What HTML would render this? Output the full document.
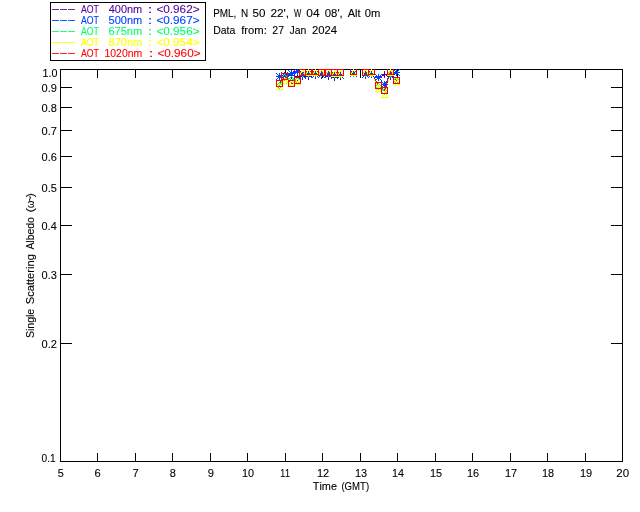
<!DOCTYPE html>
<html><head><meta charset="utf-8"><title>Single Scattering Albedo</title>
<style>
html,body{margin:0;padding:0;background:#fff;}
svg{display:block;font-family:"Liberation Sans",sans-serif;font-kerning:none;}
svg line,svg rect{shape-rendering:crispEdges;}
</style></head><body>
<svg width="640" height="512" viewBox="0 0 640 512">
<rect x="0" y="0" width="640" height="512" fill="#fff" stroke="none"/>
<rect x="60.5" y="69.5" width="562" height="392" fill="none" stroke="#000"/>
<text transform="translate(57.73,477) scale(0.948,1)" fill="#000" stroke="#000" stroke-width="0.1" font-size="11.5">5</text>
<line x1="97.5" y1="461.5" x2="97.5" y2="453" stroke="#000" stroke-width="1"/>
<line x1="97.5" y1="69.5" x2="97.5" y2="78" stroke="#000" stroke-width="1"/>
<text transform="translate(94.60,477) scale(0.974,1)" fill="#000" stroke="#000" stroke-width="0.1" font-size="11.5">6</text>
<line x1="135.5" y1="461.5" x2="135.5" y2="453" stroke="#000" stroke-width="1"/>
<line x1="135.5" y1="69.5" x2="135.5" y2="78" stroke="#000" stroke-width="1"/>
<text transform="translate(132.58,477) scale(0.988,1)" fill="#000" stroke="#000" stroke-width="0.1" font-size="11.5">7</text>
<line x1="172.5" y1="461.5" x2="172.5" y2="453" stroke="#000" stroke-width="1"/>
<line x1="172.5" y1="69.5" x2="172.5" y2="78" stroke="#000" stroke-width="1"/>
<text transform="translate(169.69,477) scale(0.957,1)" fill="#000" stroke="#000" stroke-width="0.1" font-size="11.5">8</text>
<line x1="210.5" y1="461.5" x2="210.5" y2="453" stroke="#000" stroke-width="1"/>
<line x1="210.5" y1="69.5" x2="210.5" y2="78" stroke="#000" stroke-width="1"/>
<text transform="translate(207.64,477) scale(0.973,1)" fill="#000" stroke="#000" stroke-width="0.1" font-size="11.5">9</text>
<line x1="247.5" y1="461.5" x2="247.5" y2="453" stroke="#000" stroke-width="1"/>
<line x1="247.5" y1="69.5" x2="247.5" y2="78" stroke="#000" stroke-width="1"/>
<text transform="translate(242.01,477) scale(0.945,1)" fill="#000" stroke="#000" stroke-width="0.1" font-size="11.5">10</text>
<line x1="285.5" y1="461.5" x2="285.5" y2="453" stroke="#000" stroke-width="1"/>
<line x1="285.5" y1="69.5" x2="285.5" y2="78" stroke="#000" stroke-width="1"/>
<text transform="translate(280.15,477) scale(0.778,1)" fill="#000" stroke="#000" stroke-width="0.1" font-size="11.5">11</text>
<line x1="322.5" y1="461.5" x2="322.5" y2="453" stroke="#000" stroke-width="1"/>
<line x1="322.5" y1="69.5" x2="322.5" y2="78" stroke="#000" stroke-width="1"/>
<text transform="translate(317.00,477) scale(0.956,1)" fill="#000" stroke="#000" stroke-width="0.1" font-size="11.5">12</text>
<line x1="360.5" y1="461.5" x2="360.5" y2="453" stroke="#000" stroke-width="1"/>
<line x1="360.5" y1="69.5" x2="360.5" y2="78" stroke="#000" stroke-width="1"/>
<text transform="translate(355.00,477) scale(0.949,1)" fill="#000" stroke="#000" stroke-width="0.1" font-size="11.5">13</text>
<line x1="397.5" y1="461.5" x2="397.5" y2="453" stroke="#000" stroke-width="1"/>
<line x1="397.5" y1="69.5" x2="397.5" y2="78" stroke="#000" stroke-width="1"/>
<text transform="translate(392.01,477) scale(0.936,1)" fill="#000" stroke="#000" stroke-width="0.1" font-size="11.5">14</text>
<line x1="435.5" y1="461.5" x2="435.5" y2="453" stroke="#000" stroke-width="1"/>
<line x1="435.5" y1="69.5" x2="435.5" y2="78" stroke="#000" stroke-width="1"/>
<text transform="translate(430.00,477) scale(0.948,1)" fill="#000" stroke="#000" stroke-width="0.1" font-size="11.5">15</text>
<line x1="472.5" y1="461.5" x2="472.5" y2="453" stroke="#000" stroke-width="1"/>
<line x1="472.5" y1="69.5" x2="472.5" y2="78" stroke="#000" stroke-width="1"/>
<text transform="translate(467.00,477) scale(0.949,1)" fill="#000" stroke="#000" stroke-width="0.1" font-size="11.5">16</text>
<line x1="510.5" y1="461.5" x2="510.5" y2="453" stroke="#000" stroke-width="1"/>
<line x1="510.5" y1="69.5" x2="510.5" y2="78" stroke="#000" stroke-width="1"/>
<text transform="translate(505.00,477) scale(0.956,1)" fill="#000" stroke="#000" stroke-width="0.1" font-size="11.5">17</text>
<line x1="547.5" y1="461.5" x2="547.5" y2="453" stroke="#000" stroke-width="1"/>
<line x1="547.5" y1="69.5" x2="547.5" y2="78" stroke="#000" stroke-width="1"/>
<text transform="translate(542.00,477) scale(0.949,1)" fill="#000" stroke="#000" stroke-width="0.1" font-size="11.5">18</text>
<line x1="585.5" y1="461.5" x2="585.5" y2="453" stroke="#000" stroke-width="1"/>
<line x1="585.5" y1="69.5" x2="585.5" y2="78" stroke="#000" stroke-width="1"/>
<text transform="translate(580.00,477) scale(0.953,1)" fill="#000" stroke="#000" stroke-width="0.1" font-size="11.5">19</text>
<text transform="translate(616.25,477) scale(1.006,1)" fill="#000" stroke="#000" stroke-width="0.1" font-size="11.5">20</text>
<text transform="translate(42.48,77) scale(0.934,1)" fill="#000" stroke="#000" stroke-width="0.1" font-size="11.5">1.0</text>
<line x1="60.5" y1="87.5" x2="72" y2="87.5" stroke="#000" stroke-width="1"/>
<line x1="622.5" y1="87.5" x2="611" y2="87.5" stroke="#000" stroke-width="1"/>
<text transform="translate(41.57,92) scale(0.960,1)" fill="#000" stroke="#000" stroke-width="0.1" font-size="11.5">0.9</text>
<line x1="60.5" y1="107.5" x2="72" y2="107.5" stroke="#000" stroke-width="1"/>
<line x1="622.5" y1="107.5" x2="611" y2="107.5" stroke="#000" stroke-width="1"/>
<text transform="translate(41.57,112) scale(0.958,1)" fill="#000" stroke="#000" stroke-width="0.1" font-size="11.5">0.8</text>
<line x1="60.5" y1="130.5" x2="72" y2="130.5" stroke="#000" stroke-width="1"/>
<line x1="622.5" y1="130.5" x2="611" y2="130.5" stroke="#000" stroke-width="1"/>
<text transform="translate(41.57,135) scale(0.963,1)" fill="#000" stroke="#000" stroke-width="0.1" font-size="11.5">0.7</text>
<line x1="60.5" y1="156.5" x2="72" y2="156.5" stroke="#000" stroke-width="1"/>
<line x1="622.5" y1="156.5" x2="611" y2="156.5" stroke="#000" stroke-width="1"/>
<text transform="translate(41.57,161) scale(0.958,1)" fill="#000" stroke="#000" stroke-width="0.1" font-size="11.5">0.6</text>
<line x1="60.5" y1="187.5" x2="72" y2="187.5" stroke="#000" stroke-width="1"/>
<line x1="622.5" y1="187.5" x2="611" y2="187.5" stroke="#000" stroke-width="1"/>
<text transform="translate(41.57,192) scale(0.957,1)" fill="#000" stroke="#000" stroke-width="0.1" font-size="11.5">0.5</text>
<line x1="60.5" y1="225.5" x2="72" y2="225.5" stroke="#000" stroke-width="1"/>
<line x1="622.5" y1="225.5" x2="611" y2="225.5" stroke="#000" stroke-width="1"/>
<text transform="translate(41.57,230) scale(0.947,1)" fill="#000" stroke="#000" stroke-width="0.1" font-size="11.5">0.4</text>
<line x1="60.5" y1="274.5" x2="72" y2="274.5" stroke="#000" stroke-width="1"/>
<line x1="622.5" y1="274.5" x2="611" y2="274.5" stroke="#000" stroke-width="1"/>
<text transform="translate(41.57,279) scale(0.958,1)" fill="#000" stroke="#000" stroke-width="0.1" font-size="11.5">0.3</text>
<line x1="60.5" y1="343.5" x2="72" y2="343.5" stroke="#000" stroke-width="1"/>
<line x1="622.5" y1="343.5" x2="611" y2="343.5" stroke="#000" stroke-width="1"/>
<text transform="translate(41.57,348) scale(0.963,1)" fill="#000" stroke="#000" stroke-width="0.1" font-size="11.5">0.2</text>
<text transform="translate(41.60,462) scale(0.881,1)" fill="#000" stroke="#000" stroke-width="0.1" font-size="11.5">0.1</text>
<text y="490" fill="#000" stroke="#000" stroke-width="0.1" font-size="11.5"><tspan x="312.76" textLength="24.23" lengthAdjust="spacingAndGlyphs">Time</tspan> <tspan x="341.41" textLength="27.69" lengthAdjust="spacingAndGlyphs">(GMT)</tspan></text>
<text transform="translate(33.5,0) rotate(-90)" y="0" fill="#000" stroke="#000" stroke-width="0.1" font-size="11.5"><tspan x="-337.98" textLength="29.14" lengthAdjust="spacingAndGlyphs">Single</tspan> <tspan x="-304.31" textLength="50.23" lengthAdjust="spacingAndGlyphs">Scattering</tspan> <tspan x="-249.62" textLength="32.46" lengthAdjust="spacingAndGlyphs">Albedo</tspan> <tspan x="-212.64" textLength="4.52" lengthAdjust="spacingAndGlyphs">(</tspan><tspan x="-207.98" textLength="7.37" lengthAdjust="spacingAndGlyphs">ω</tspan><tspan x="-201.75" textLength="5.79" lengthAdjust="spacingAndGlyphs">~</tspan><tspan x="-197.37" textLength="4.14" lengthAdjust="spacingAndGlyphs">)</tspan></text>
<text y="17" fill="#000" stroke="#000" stroke-width="0.1" font-size="11.5"><tspan x="213.18" textLength="23.21" lengthAdjust="spacingAndGlyphs">PML,</tspan> <tspan x="240.93" textLength="7.18" lengthAdjust="spacingAndGlyphs">N</tspan> <tspan x="252.53" textLength="12.92" lengthAdjust="spacingAndGlyphs">50</tspan> <tspan x="270.41" textLength="18.65" lengthAdjust="spacingAndGlyphs">22',</tspan> <tspan x="293.97" textLength="7.26" lengthAdjust="spacingAndGlyphs">W</tspan> <tspan x="306.33" textLength="13.27" lengthAdjust="spacingAndGlyphs">04</tspan> <tspan x="324.81" textLength="17.96" lengthAdjust="spacingAndGlyphs">08',</tspan> <tspan x="347.73" textLength="12.85" lengthAdjust="spacingAndGlyphs">Alt</tspan> <tspan x="364.86" textLength="15.58" lengthAdjust="spacingAndGlyphs">0m</tspan></text>
<text y="34" fill="#000" stroke="#000" stroke-width="0.1" font-size="11.5"><tspan x="213.14" textLength="22.16" lengthAdjust="spacingAndGlyphs">Data</tspan> <tspan x="241.14" textLength="25.64" lengthAdjust="spacingAndGlyphs">from:</tspan> <tspan x="272.27" textLength="11.76" lengthAdjust="spacingAndGlyphs">27</tspan> <tspan x="289.59" textLength="16.84" lengthAdjust="spacingAndGlyphs">Jan</tspan> <tspan x="311.93" textLength="25.20" lengthAdjust="spacingAndGlyphs">2024</tspan></text>
<rect x="50.5" y="2.5" width="155" height="58" fill="none" stroke="#000"/>
<text y="13" fill="#52009c" stroke="#52009c" stroke-width="0.1" font-size="11.5"><tspan x="51.10" y="12" letter-spacing="-0.04em" textLength="23.82" lengthAdjust="spacingAndGlyphs">---</tspan> <tspan x="80.98" y="13" textLength="17.92" lengthAdjust="spacingAndGlyphs">AOT</tspan> <tspan x="108.75" textLength="33.47" lengthAdjust="spacingAndGlyphs">400nm</tspan> <tspan x="147.67" textLength="4.67" lengthAdjust="spacingAndGlyphs">:</tspan> <tspan x="156.42" textLength="43.15" lengthAdjust="spacingAndGlyphs">&lt;0.962&gt;</tspan></text>
<text y="24" fill="#0040ff" stroke="#0040ff" stroke-width="0.1" font-size="11.5"><tspan x="51.10" y="23" letter-spacing="-0.04em" textLength="23.82" lengthAdjust="spacingAndGlyphs">---</tspan> <tspan x="80.98" y="24" textLength="17.92" lengthAdjust="spacingAndGlyphs">AOT</tspan> <tspan x="108.56" textLength="33.67" lengthAdjust="spacingAndGlyphs">500nm</tspan> <tspan x="147.67" textLength="4.67" lengthAdjust="spacingAndGlyphs">:</tspan> <tspan x="156.42" textLength="43.15" lengthAdjust="spacingAndGlyphs">&lt;0.967&gt;</tspan></text>
<text y="35" fill="#00ff70" stroke="#00ff70" stroke-width="0.1" font-size="11.5"><tspan x="51.10" y="34" letter-spacing="-0.04em" textLength="23.82" lengthAdjust="spacingAndGlyphs">---</tspan> <tspan x="80.98" y="35" textLength="17.92" lengthAdjust="spacingAndGlyphs">AOT</tspan> <tspan x="108.44" textLength="33.79" lengthAdjust="spacingAndGlyphs">675nm</tspan> <tspan x="147.67" textLength="4.67" lengthAdjust="spacingAndGlyphs">:</tspan> <tspan x="156.42" textLength="43.15" lengthAdjust="spacingAndGlyphs">&lt;0.956&gt;</tspan></text>
<text y="46" fill="#ffff00" stroke="#ffff00" stroke-width="0.1" font-size="11.5"><tspan x="51.10" y="45" letter-spacing="-0.04em" textLength="23.82" lengthAdjust="spacingAndGlyphs">---</tspan> <tspan x="80.98" y="46" textLength="17.92" lengthAdjust="spacingAndGlyphs">AOT</tspan> <tspan x="108.52" textLength="33.71" lengthAdjust="spacingAndGlyphs">870nm</tspan> <tspan x="147.67" textLength="4.67" lengthAdjust="spacingAndGlyphs">:</tspan> <tspan x="156.42" textLength="43.15" lengthAdjust="spacingAndGlyphs">&lt;0.954&gt;</tspan></text>
<text y="57" fill="#ff0000" stroke="#ff0000" stroke-width="0.1" font-size="11.5"><tspan x="51.10" y="56" letter-spacing="-0.04em" textLength="23.82" lengthAdjust="spacingAndGlyphs">---</tspan> <tspan x="80.98" y="57" textLength="17.92" lengthAdjust="spacingAndGlyphs">AOT</tspan> <tspan x="104.51" textLength="37.68" lengthAdjust="spacingAndGlyphs">1020nm</tspan> <tspan x="148.67" textLength="4.67" lengthAdjust="spacingAndGlyphs">:</tspan> <tspan x="157.42" textLength="43.15" lengthAdjust="spacingAndGlyphs">&lt;0.960&gt;</tspan></text>
<g shape-rendering="crispEdges" stroke="none">
<path d="M396 72h1v1h-1zM394 73h2v1h-2zM369 74h4v1h-4zM384 74h2v1h-2zM393 74h1v1h-1zM282 75h13v1h-13zM312 75h13v1h-13zM365 75h4v1h-4zM373 75h2v1h-2zM382 75h2v1h-2zM386 75h3v1h-3zM391 75h2v1h-2zM279 76h3v1h-3zM295 76h17v1h-17zM325 76h7v1h-7zM338 76h3v1h-3zM375 76h2v1h-2zM380 76h2v1h-2zM389 76h2v1h-2zM332 77h6v1h-6zM377 77h3v1h-3z" fill="#52009c"/>
<path d="M296 71h2v1h-2zM293 72h3v1h-3zM298 72h1v1h-1zM396 72h1v1h-1zM290 73h3v1h-3zM299 73h2v1h-2zM394 73h2v1h-2zM286 74h4v1h-4zM301 74h1v1h-1zM306 74h26v1h-26zM365 74h8v1h-8zM392 74h2v1h-2zM282 75h4v1h-4zM302 75h4v1h-4zM332 75h9v1h-9zM373 75h2v1h-2zM390 75h2v1h-2zM279 76h3v1h-3zM375 76h2v1h-2zM389 76h1v1h-1zM377 77h2v1h-2zM389 77h1v1h-1zM379 78h1v1h-1zM388 78h1v1h-1zM380 79h1v1h-1zM387 79h1v1h-1zM381 80h1v1h-1zM387 80h1v1h-1zM381 81h1v1h-1zM386 81h1v1h-1zM382 82h1v1h-1zM385 82h1v1h-1zM383 83h1v1h-1zM385 83h1v1h-1zM384 84h1v1h-1z" fill="#0040ff"/>
<path d="M302 73h30v1h-30zM365 73h7v1h-7zM390 73h1v1h-1zM301 74h1v1h-1zM332 74h9v1h-9zM372 74h1v1h-1zM390 74h2v1h-2zM301 75h1v1h-1zM372 75h1v1h-1zM389 75h1v1h-1zM392 75h1v1h-1zM300 76h1v1h-1zM373 76h1v1h-1zM389 76h1v1h-1zM393 76h1v1h-1zM284 77h2v1h-2zM299 77h1v1h-1zM373 77h1v1h-1zM389 77h1v1h-1zM393 77h1v1h-1zM283 78h1v1h-1zM286 78h4v1h-4zM298 78h1v1h-1zM374 78h1v1h-1zM388 78h1v1h-1zM394 78h1v1h-1zM283 79h1v1h-1zM290 79h5v1h-5zM298 79h1v1h-1zM374 79h1v1h-1zM388 79h1v1h-1zM395 79h1v1h-1zM282 80h1v1h-1zM295 80h3v1h-3zM375 80h1v1h-1zM388 80h1v1h-1zM396 80h1v1h-1zM281 81h1v1h-1zM375 81h1v1h-1zM387 81h1v1h-1zM281 82h1v1h-1zM376 82h1v1h-1zM387 82h1v1h-1zM280 83h1v1h-1zM376 83h1v1h-1zM387 83h1v1h-1zM280 84h1v1h-1zM377 84h1v1h-1zM386 84h1v1h-1zM279 85h1v1h-1zM377 85h1v1h-1zM386 85h1v1h-1zM378 86h1v1h-1zM386 86h1v1h-1zM379 87h1v1h-1zM385 87h1v1h-1zM380 88h2v1h-2zM385 88h1v1h-1zM382 89h1v1h-1zM385 89h1v1h-1zM383 90h2v1h-2zM384 91h1v1h-1z" fill="#00ff70"/>
<path d="M302 72h30v1h-30zM365 72h7v1h-7zM390 72h1v1h-1zM301 73h1v1h-1zM332 73h9v1h-9zM371 73h1v1h-1zM390 73h2v1h-2zM301 74h1v1h-1zM372 74h1v1h-1zM389 74h1v1h-1zM391 74h1v1h-1zM300 75h1v1h-1zM372 75h1v1h-1zM389 75h1v1h-1zM392 75h1v1h-1zM300 76h1v1h-1zM373 76h1v1h-1zM389 76h1v1h-1zM393 76h1v1h-1zM299 77h1v1h-1zM373 77h1v1h-1zM389 77h1v1h-1zM393 77h1v1h-1zM299 78h1v1h-1zM374 78h1v1h-1zM388 78h1v1h-1zM394 78h1v1h-1zM298 79h1v1h-1zM374 79h1v1h-1zM388 79h1v1h-1zM395 79h1v1h-1zM284 80h2v1h-2zM298 80h1v1h-1zM374 80h1v1h-1zM388 80h1v1h-1zM395 80h1v1h-1zM283 81h1v1h-1zM286 81h4v1h-4zM295 81h3v1h-3zM375 81h1v1h-1zM388 81h1v1h-1zM396 81h1v1h-1zM282 82h1v1h-1zM290 82h5v1h-5zM375 82h1v1h-1zM387 82h1v1h-1zM281 83h1v1h-1zM376 83h1v1h-1zM387 83h1v1h-1zM281 84h1v1h-1zM376 84h1v1h-1zM387 84h1v1h-1zM280 85h1v1h-1zM377 85h1v1h-1zM386 85h1v1h-1zM279 86h1v1h-1zM377 86h1v1h-1zM386 86h1v1h-1zM378 87h1v1h-1zM386 87h1v1h-1zM378 88h1v1h-1zM386 88h1v1h-1zM379 89h1v1h-1zM385 89h1v1h-1zM380 90h1v1h-1zM385 90h1v1h-1zM381 91h1v1h-1zM385 91h1v1h-1zM382 92h1v1h-1zM385 92h1v1h-1zM383 93h2v1h-2zM384 94h1v1h-1z" fill="#ffff00"/>
<path d="M306 71h13v1h-13zM369 71h3v1h-3zM390 71h1v1h-1zM302 72h4v1h-4zM319 72h22v1h-22zM365 72h4v1h-4zM371 72h1v1h-1zM390 72h2v1h-2zM301 73h1v1h-1zM372 73h1v1h-1zM389 73h1v1h-1zM391 73h1v1h-1zM301 74h1v1h-1zM372 74h1v1h-1zM389 74h1v1h-1zM392 74h1v1h-1zM300 75h1v1h-1zM373 75h1v1h-1zM389 75h1v1h-1zM393 75h1v1h-1zM284 76h1v1h-1zM299 76h1v1h-1zM373 76h1v1h-1zM388 76h1v1h-1zM393 76h1v1h-1zM283 77h1v1h-1zM285 77h1v1h-1zM299 77h1v1h-1zM374 77h1v1h-1zM388 77h1v1h-1zM394 77h1v1h-1zM283 78h1v1h-1zM286 78h1v1h-1zM298 78h1v1h-1zM374 78h1v1h-1zM388 78h1v1h-1zM395 78h1v1h-1zM282 79h1v1h-1zM287 79h1v1h-1zM298 79h1v1h-1zM375 79h1v1h-1zM387 79h1v1h-1zM395 79h1v1h-1zM281 80h1v1h-1zM288 80h1v1h-1zM297 80h1v1h-1zM375 80h1v1h-1zM387 80h1v1h-1zM396 80h1v1h-1zM280 81h1v1h-1zM289 81h1v1h-1zM295 81h2v1h-2zM376 81h1v1h-1zM387 81h1v1h-1zM280 82h1v1h-1zM290 82h1v1h-1zM293 82h2v1h-2zM376 82h1v1h-1zM387 82h1v1h-1zM279 83h1v1h-1zM291 83h2v1h-2zM377 83h1v1h-1zM386 83h1v1h-1zM377 84h1v1h-1zM386 84h1v1h-1zM378 85h1v1h-1zM386 85h1v1h-1zM379 86h1v1h-1zM385 86h1v1h-1zM380 87h2v1h-2zM385 87h1v1h-1zM382 88h1v1h-1zM385 88h1v1h-1zM383 89h2v1h-2zM384 90h1v1h-1z" fill="#ff0000"/>
<path d="M396 69h1v1h-1zM353 70h1v1h-1zM396 70h1v1h-1zM353 71h1v1h-1zM371 71h1v1h-1zM384 71h1v1h-1zM396 71h1v1h-1zM284 72h1v1h-1zM291 72h1v1h-1zM315 72h1v1h-1zM321 72h1v1h-1zM353 72h1v1h-1zM365 72h1v1h-1zM371 72h1v1h-1zM384 72h1v1h-1zM393 72h7v1h-7zM279 73h1v1h-1zM284 73h1v1h-1zM291 73h1v1h-1zM297 73h1v1h-1zM302 73h1v1h-1zM308 73h1v1h-1zM315 73h1v1h-1zM321 73h1v1h-1zM328 73h1v1h-1zM340 73h1v1h-1zM350 73h7v1h-7zM365 73h1v1h-1zM371 73h1v1h-1zM384 73h1v1h-1zM390 73h1v1h-1zM396 73h1v1h-1zM279 74h1v1h-1zM284 74h1v1h-1zM291 74h1v1h-1zM297 74h1v1h-1zM302 74h1v1h-1zM308 74h1v1h-1zM315 74h1v1h-1zM321 74h1v1h-1zM328 74h1v1h-1zM334 74h1v1h-1zM340 74h1v1h-1zM353 74h1v1h-1zM365 74h1v1h-1zM368 74h7v1h-7zM378 74h1v1h-1zM381 74h7v1h-7zM390 74h1v1h-1zM396 74h1v1h-1zM279 75h1v1h-1zM281 75h14v1h-14zM297 75h1v1h-1zM302 75h1v1h-1zM308 75h1v1h-1zM312 75h13v1h-13zM328 75h1v1h-1zM334 75h1v1h-1zM340 75h1v1h-1zM353 75h1v1h-1zM362 75h7v1h-7zM371 75h1v1h-1zM378 75h1v1h-1zM384 75h1v1h-1zM390 75h1v1h-1zM396 75h1v1h-1zM276 76h7v1h-7zM284 76h1v1h-1zM291 76h1v1h-1zM294 76h18v1h-18zM315 76h1v1h-1zM321 76h1v1h-1zM325 76h7v1h-7zM334 76h1v1h-1zM337 76h7v1h-7zM353 76h1v1h-1zM365 76h1v1h-1zM371 76h1v1h-1zM378 76h1v1h-1zM384 76h1v1h-1zM387 76h7v1h-7zM279 77h1v1h-1zM284 77h1v1h-1zM291 77h1v1h-1zM297 77h1v1h-1zM302 77h1v1h-1zM308 77h1v1h-1zM315 77h1v1h-1zM321 77h1v1h-1zM328 77h1v1h-1zM331 77h7v1h-7zM340 77h1v1h-1zM365 77h1v1h-1zM371 77h1v1h-1zM375 77h7v1h-7zM384 77h1v1h-1zM390 77h1v1h-1zM279 78h1v1h-1zM284 78h1v1h-1zM291 78h1v1h-1zM297 78h1v1h-1zM302 78h1v1h-1zM308 78h1v1h-1zM315 78h1v1h-1zM321 78h1v1h-1zM328 78h1v1h-1zM334 78h1v1h-1zM340 78h1v1h-1zM365 78h1v1h-1zM378 78h1v1h-1zM390 78h1v1h-1zM279 79h1v1h-1zM297 79h1v1h-1zM302 79h1v1h-1zM308 79h1v1h-1zM328 79h1v1h-1zM334 79h1v1h-1zM340 79h1v1h-1zM378 79h1v1h-1zM390 79h1v1h-1zM334 80h1v1h-1zM378 80h1v1h-1z" fill="#52009c"/>
<path d="M295 69h1v1h-1zM297 69h1v1h-1zM299 69h1v1h-1zM393 69h1v1h-1zM396 69h1v1h-1zM399 69h1v1h-1zM288 70h1v1h-1zM291 70h1v1h-1zM294 70h1v1h-1zM296 70h3v1h-3zM350 70h1v1h-1zM353 70h1v1h-1zM356 70h1v1h-1zM394 70h1v1h-1zM396 70h1v1h-1zM398 70h1v1h-1zM289 71h1v1h-1zM291 71h1v1h-1zM293 71h8v1h-8zM305 71h1v1h-1zM308 71h1v1h-1zM311 71h2v1h-2zM315 71h1v1h-1zM318 71h1v1h-1zM321 71h1v1h-1zM324 71h2v1h-2zM328 71h1v1h-1zM331 71h1v1h-1zM351 71h1v1h-1zM353 71h1v1h-1zM355 71h1v1h-1zM362 71h1v1h-1zM365 71h1v1h-1zM368 71h1v1h-1zM371 71h1v1h-1zM374 71h1v1h-1zM395 71h3v1h-3zM281 72h1v1h-1zM284 72h1v1h-1zM287 72h1v1h-1zM290 72h3v1h-3zM296 72h4v1h-4zM302 72h1v1h-1zM305 72h2v1h-2zM308 72h1v1h-1zM310 72h1v1h-1zM313 72h1v1h-1zM315 72h1v1h-1zM317 72h1v1h-1zM319 72h1v1h-1zM321 72h1v1h-1zM323 72h1v1h-1zM326 72h1v1h-1zM328 72h1v1h-1zM330 72h2v1h-2zM334 72h1v1h-1zM337 72h1v1h-1zM340 72h1v1h-1zM343 72h1v1h-1zM352 72h3v1h-3zM363 72h1v1h-1zM365 72h1v1h-1zM367 72h1v1h-1zM369 72h1v1h-1zM371 72h1v1h-1zM373 72h1v1h-1zM387 72h1v1h-1zM390 72h1v1h-1zM393 72h7v1h-7zM276 73h1v1h-1zM279 73h1v1h-1zM282 73h1v1h-1zM284 73h1v1h-1zM286 73h1v1h-1zM288 73h8v1h-8zM297 73h1v1h-1zM299 73h2v1h-2zM302 73h1v1h-1zM304 73h1v1h-1zM307 73h3v1h-3zM314 73h3v1h-3zM320 73h3v1h-3zM327 73h3v1h-3zM332 73h1v1h-1zM334 73h1v1h-1zM336 73h1v1h-1zM338 73h1v1h-1zM340 73h1v1h-1zM342 73h1v1h-1zM350 73h7v1h-7zM364 73h3v1h-3zM370 73h3v1h-3zM388 73h1v1h-1zM390 73h1v1h-1zM392 73h1v1h-1zM395 73h3v1h-3zM277 74h1v1h-1zM279 74h1v1h-1zM281 74h1v1h-1zM283 74h3v1h-3zM290 74h3v1h-3zM294 74h1v1h-1zM297 74h1v1h-1zM300 74h4v1h-4zM305 74h27v1h-27zM333 74h3v1h-3zM339 74h3v1h-3zM352 74h3v1h-3zM362 74h14v1h-14zM378 74h1v1h-1zM381 74h1v1h-1zM389 74h3v1h-3zM394 74h1v1h-1zM396 74h1v1h-1zM398 74h1v1h-1zM278 75h10v1h-10zM289 75h1v1h-1zM291 75h1v1h-1zM293 75h1v1h-1zM299 75h7v1h-7zM307 75h3v1h-3zM314 75h3v1h-3zM320 75h3v1h-3zM327 75h3v1h-3zM331 75h13v1h-13zM351 75h1v1h-1zM353 75h1v1h-1zM355 75h1v1h-1zM364 75h3v1h-3zM370 75h3v1h-3zM376 75h1v1h-1zM378 75h1v1h-1zM380 75h1v1h-1zM387 75h7v1h-7zM396 75h1v1h-1zM399 75h1v1h-1zM276 76h10v1h-10zM288 76h1v1h-1zM291 76h1v1h-1zM294 76h1v1h-1zM301 76h3v1h-3zM306 76h1v1h-1zM308 76h1v1h-1zM310 76h1v1h-1zM313 76h1v1h-1zM315 76h1v1h-1zM317 76h1v1h-1zM319 76h1v1h-1zM321 76h1v1h-1zM323 76h1v1h-1zM326 76h1v1h-1zM328 76h1v1h-1zM330 76h1v1h-1zM333 76h3v1h-3zM339 76h3v1h-3zM350 76h1v1h-1zM353 76h1v1h-1zM356 76h1v1h-1zM363 76h1v1h-1zM365 76h1v1h-1zM367 76h1v1h-1zM369 76h1v1h-1zM371 76h1v1h-1zM373 76h1v1h-1zM377 76h3v1h-3zM389 76h3v1h-3zM278 77h3v1h-3zM282 77h1v1h-1zM284 77h1v1h-1zM286 77h1v1h-1zM300 77h1v1h-1zM302 77h1v1h-1zM304 77h2v1h-2zM308 77h1v1h-1zM311 77h2v1h-2zM315 77h1v1h-1zM318 77h1v1h-1zM321 77h1v1h-1zM324 77h2v1h-2zM328 77h1v1h-1zM331 77h2v1h-2zM334 77h1v1h-1zM336 77h1v1h-1zM338 77h1v1h-1zM340 77h1v1h-1zM342 77h1v1h-1zM362 77h1v1h-1zM365 77h1v1h-1zM368 77h1v1h-1zM371 77h1v1h-1zM374 77h8v1h-8zM388 77h1v1h-1zM390 77h1v1h-1zM392 77h1v1h-1zM277 78h1v1h-1zM279 78h1v1h-1zM281 78h1v1h-1zM284 78h1v1h-1zM287 78h1v1h-1zM299 78h1v1h-1zM302 78h1v1h-1zM305 78h1v1h-1zM331 78h1v1h-1zM334 78h1v1h-1zM337 78h1v1h-1zM340 78h1v1h-1zM343 78h1v1h-1zM377 78h3v1h-3zM387 78h1v1h-1zM390 78h1v1h-1zM393 78h1v1h-1zM276 79h1v1h-1zM279 79h1v1h-1zM282 79h1v1h-1zM376 79h1v1h-1zM378 79h1v1h-1zM380 79h1v1h-1zM375 80h1v1h-1zM378 80h1v1h-1zM381 80h1v1h-1zM381 81h1v1h-1zM384 81h1v1h-1zM387 81h1v1h-1zM382 82h1v1h-1zM384 82h1v1h-1zM386 82h1v1h-1zM383 83h3v1h-3zM381 84h7v1h-7zM383 85h3v1h-3zM382 86h1v1h-1zM384 86h1v1h-1zM386 86h1v1h-1zM381 87h1v1h-1zM384 87h1v1h-1zM387 87h1v1h-1z" fill="#0040ff"/>
<path d="M302 70h1v1h-1zM308 70h1v1h-1zM315 70h1v1h-1zM321 70h1v1h-1zM328 70h1v1h-1zM353 70h1v1h-1zM365 70h1v1h-1zM371 70h1v1h-1zM390 70h1v1h-1zM301 71h1v1h-1zM303 71h1v1h-1zM307 71h1v1h-1zM309 71h1v1h-1zM314 71h1v1h-1zM316 71h1v1h-1zM320 71h1v1h-1zM322 71h1v1h-1zM327 71h1v1h-1zM329 71h1v1h-1zM334 71h1v1h-1zM340 71h1v1h-1zM352 71h1v1h-1zM354 71h1v1h-1zM364 71h1v1h-1zM366 71h1v1h-1zM370 71h1v1h-1zM372 71h1v1h-1zM389 71h1v1h-1zM391 71h1v1h-1zM300 72h1v1h-1zM304 72h1v1h-1zM306 72h1v1h-1zM310 72h1v1h-1zM313 72h1v1h-1zM317 72h1v1h-1zM319 72h1v1h-1zM323 72h1v1h-1zM326 72h1v1h-1zM330 72h1v1h-1zM333 72h1v1h-1zM335 72h1v1h-1zM339 72h1v1h-1zM341 72h1v1h-1zM351 72h1v1h-1zM355 72h1v1h-1zM363 72h1v1h-1zM367 72h1v1h-1zM369 72h1v1h-1zM373 72h1v1h-1zM388 72h1v1h-1zM392 72h1v1h-1zM299 73h1v1h-1zM305 73h1v1h-1zM311 73h2v1h-2zM318 73h1v1h-1zM324 73h2v1h-2zM331 73h2v1h-2zM336 73h1v1h-1zM338 73h1v1h-1zM342 73h1v1h-1zM350 73h1v1h-1zM356 73h1v1h-1zM362 73h1v1h-1zM368 73h1v1h-1zM374 73h1v1h-1zM387 73h1v1h-1zM393 73h1v1h-1zM284 74h1v1h-1zM300 74h1v1h-1zM304 74h1v1h-1zM306 74h1v1h-1zM310 74h1v1h-1zM313 74h1v1h-1zM317 74h1v1h-1zM319 74h1v1h-1zM323 74h1v1h-1zM326 74h1v1h-1zM330 74h2v1h-2zM337 74h1v1h-1zM343 74h1v1h-1zM351 74h1v1h-1zM355 74h1v1h-1zM363 74h1v1h-1zM367 74h1v1h-1zM369 74h1v1h-1zM373 74h1v1h-1zM388 74h1v1h-1zM392 74h1v1h-1zM283 75h1v1h-1zM285 75h1v1h-1zM301 75h1v1h-1zM303 75h1v1h-1zM307 75h1v1h-1zM309 75h1v1h-1zM314 75h1v1h-1zM316 75h1v1h-1zM320 75h1v1h-1zM322 75h1v1h-1zM327 75h1v1h-1zM329 75h1v1h-1zM332 75h1v1h-1zM336 75h1v1h-1zM338 75h1v1h-1zM342 75h1v1h-1zM352 75h1v1h-1zM354 75h1v1h-1zM364 75h1v1h-1zM366 75h1v1h-1zM370 75h1v1h-1zM372 75h1v1h-1zM389 75h1v1h-1zM391 75h1v1h-1zM282 76h1v1h-1zM286 76h1v1h-1zM291 76h1v1h-1zM302 76h1v1h-1zM308 76h1v1h-1zM315 76h1v1h-1zM321 76h1v1h-1zM328 76h1v1h-1zM333 76h1v1h-1zM335 76h1v1h-1zM339 76h1v1h-1zM341 76h1v1h-1zM353 76h1v1h-1zM365 76h1v1h-1zM371 76h1v1h-1zM390 76h1v1h-1zM281 77h1v1h-1zM287 77h1v1h-1zM290 77h1v1h-1zM292 77h1v1h-1zM297 77h1v1h-1zM334 77h1v1h-1zM340 77h1v1h-1zM396 77h1v1h-1zM282 78h1v1h-1zM286 78h1v1h-1zM289 78h1v1h-1zM293 78h1v1h-1zM296 78h1v1h-1zM298 78h1v1h-1zM395 78h1v1h-1zM397 78h1v1h-1zM283 79h1v1h-1zM285 79h1v1h-1zM288 79h1v1h-1zM294 79h2v1h-2zM299 79h1v1h-1zM394 79h1v1h-1zM398 79h1v1h-1zM284 80h1v1h-1zM289 80h1v1h-1zM293 80h2v1h-2zM300 80h1v1h-1zM393 80h1v1h-1zM399 80h1v1h-1zM290 81h1v1h-1zM292 81h1v1h-1zM295 81h1v1h-1zM299 81h1v1h-1zM394 81h1v1h-1zM398 81h1v1h-1zM279 82h1v1h-1zM291 82h1v1h-1zM296 82h1v1h-1zM298 82h1v1h-1zM395 82h1v1h-1zM397 82h1v1h-1zM278 83h1v1h-1zM280 83h1v1h-1zM297 83h1v1h-1zM378 83h1v1h-1zM396 83h1v1h-1zM277 84h1v1h-1zM281 84h1v1h-1zM377 84h1v1h-1zM379 84h1v1h-1zM276 85h1v1h-1zM282 85h1v1h-1zM376 85h1v1h-1zM380 85h1v1h-1zM277 86h1v1h-1zM281 86h1v1h-1zM375 86h1v1h-1zM381 86h1v1h-1zM278 87h1v1h-1zM280 87h1v1h-1zM376 87h1v1h-1zM380 87h1v1h-1zM279 88h1v1h-1zM377 88h1v1h-1zM379 88h1v1h-1zM384 88h1v1h-1zM378 89h1v1h-1zM383 89h1v1h-1zM385 89h1v1h-1zM382 90h1v1h-1zM386 90h1v1h-1zM381 91h1v1h-1zM387 91h1v1h-1zM382 92h1v1h-1zM386 92h1v1h-1zM383 93h1v1h-1zM385 93h1v1h-1zM384 94h1v1h-1z" fill="#00ff70"/>
<path d="M302 69h1v1h-1zM308 69h1v1h-1zM315 69h1v1h-1zM321 69h1v1h-1zM328 69h1v1h-1zM353 69h1v1h-1zM365 69h1v1h-1zM371 69h1v1h-1zM390 69h1v1h-1zM302 70h2v1h-2zM308 70h2v1h-2zM315 70h2v1h-2zM321 70h2v1h-2zM328 70h2v1h-2zM334 70h1v1h-1zM340 70h1v1h-1zM353 70h2v1h-2zM365 70h2v1h-2zM371 70h2v1h-2zM390 70h2v1h-2zM301 71h1v1h-1zM303 71h1v1h-1zM307 71h1v1h-1zM309 71h1v1h-1zM314 71h1v1h-1zM316 71h1v1h-1zM320 71h1v1h-1zM322 71h1v1h-1zM327 71h1v1h-1zM329 71h1v1h-1zM334 71h2v1h-2zM340 71h2v1h-2zM352 71h1v1h-1zM354 71h1v1h-1zM364 71h1v1h-1zM366 71h1v1h-1zM370 71h1v1h-1zM372 71h1v1h-1zM389 71h1v1h-1zM391 71h1v1h-1zM301 72h1v1h-1zM304 72h1v1h-1zM307 72h1v1h-1zM310 72h1v1h-1zM314 72h1v1h-1zM317 72h1v1h-1zM320 72h1v1h-1zM323 72h1v1h-1zM327 72h1v1h-1zM330 72h1v1h-1zM333 72h1v1h-1zM335 72h1v1h-1zM339 72h1v1h-1zM341 72h1v1h-1zM352 72h1v1h-1zM355 72h1v1h-1zM364 72h1v1h-1zM367 72h1v1h-1zM370 72h1v1h-1zM373 72h1v1h-1zM389 72h1v1h-1zM392 72h1v1h-1zM300 73h1v1h-1zM304 73h1v1h-1zM306 73h1v1h-1zM310 73h1v1h-1zM313 73h1v1h-1zM317 73h1v1h-1zM319 73h1v1h-1zM323 73h1v1h-1zM326 73h1v1h-1zM330 73h1v1h-1zM333 73h1v1h-1zM336 73h1v1h-1zM339 73h1v1h-1zM342 73h1v1h-1zM351 73h1v1h-1zM355 73h1v1h-1zM363 73h1v1h-1zM367 73h1v1h-1zM369 73h1v1h-1zM373 73h1v1h-1zM388 73h1v1h-1zM392 73h1v1h-1zM300 74h1v1h-1zM305 74h2v1h-2zM311 74h1v1h-1zM313 74h1v1h-1zM318 74h2v1h-2zM324 74h1v1h-1zM326 74h1v1h-1zM331 74h2v1h-2zM336 74h1v1h-1zM338 74h1v1h-1zM342 74h1v1h-1zM351 74h1v1h-1zM356 74h1v1h-1zM363 74h1v1h-1zM368 74h2v1h-2zM374 74h1v1h-1zM388 74h1v1h-1zM393 74h1v1h-1zM299 75h34v1h-34zM337 75h2v1h-2zM343 75h1v1h-1zM350 75h7v1h-7zM362 75h13v1h-13zM387 75h7v1h-7zM331 76h13v1h-13zM284 77h1v1h-1zM284 78h2v1h-2zM297 78h1v1h-1zM396 78h1v1h-1zM283 79h1v1h-1zM285 79h1v1h-1zM291 79h1v1h-1zM297 79h2v1h-2zM396 79h2v1h-2zM283 80h1v1h-1zM286 80h1v1h-1zM291 80h2v1h-2zM296 80h1v1h-1zM298 80h1v1h-1zM395 80h1v1h-1zM397 80h1v1h-1zM282 81h1v1h-1zM286 81h1v1h-1zM290 81h1v1h-1zM292 81h1v1h-1zM296 81h1v1h-1zM299 81h1v1h-1zM395 81h1v1h-1zM398 81h1v1h-1zM282 82h1v1h-1zM287 82h1v1h-1zM290 82h1v1h-1zM293 82h1v1h-1zM295 82h1v1h-1zM299 82h1v1h-1zM394 82h1v1h-1zM398 82h1v1h-1zM279 83h1v1h-1zM281 83h7v1h-7zM289 83h1v1h-1zM293 83h1v1h-1zM295 83h1v1h-1zM300 83h1v1h-1zM394 83h1v1h-1zM399 83h1v1h-1zM279 84h2v1h-2zM289 84h1v1h-1zM294 84h7v1h-7zM393 84h7v1h-7zM278 85h1v1h-1zM280 85h1v1h-1zM288 85h7v1h-7zM378 85h1v1h-1zM278 86h1v1h-1zM281 86h1v1h-1zM378 86h2v1h-2zM277 87h1v1h-1zM281 87h1v1h-1zM377 87h1v1h-1zM379 87h1v1h-1zM277 88h1v1h-1zM282 88h1v1h-1zM377 88h1v1h-1zM380 88h1v1h-1zM276 89h7v1h-7zM376 89h1v1h-1zM380 89h1v1h-1zM376 90h1v1h-1zM381 90h1v1h-1zM375 91h7v1h-7zM384 91h1v1h-1zM384 92h2v1h-2zM383 93h1v1h-1zM385 93h1v1h-1zM383 94h1v1h-1zM386 94h1v1h-1zM382 95h1v1h-1zM386 95h1v1h-1zM382 96h1v1h-1zM387 96h1v1h-1zM381 97h7v1h-7z" fill="#ffff00"/>
<path d="M299 69h7v1h-7zM311 69h2v1h-2zM318 69h26v1h-26zM350 69h1v1h-1zM356 69h1v1h-1zM362 69h7v1h-7zM374 69h1v1h-1zM387 69h1v1h-1zM393 69h1v1h-1zM299 70h1v1h-1zM305 70h1v1h-1zM311 70h2v1h-2zM318 70h1v1h-1zM324 70h2v1h-2zM331 70h1v1h-1zM337 70h1v1h-1zM343 70h1v1h-1zM350 70h1v1h-1zM356 70h1v1h-1zM362 70h1v1h-1zM368 70h1v1h-1zM374 70h1v1h-1zM387 70h1v1h-1zM393 70h1v1h-1zM299 71h1v1h-1zM305 71h1v1h-1zM311 71h2v1h-2zM318 71h1v1h-1zM324 71h2v1h-2zM331 71h1v1h-1zM337 71h1v1h-1zM343 71h1v1h-1zM350 71h1v1h-1zM356 71h1v1h-1zM362 71h1v1h-1zM368 71h1v1h-1zM374 71h1v1h-1zM387 71h1v1h-1zM393 71h1v1h-1zM299 72h1v1h-1zM305 72h1v1h-1zM311 72h2v1h-2zM318 72h1v1h-1zM324 72h2v1h-2zM331 72h1v1h-1zM337 72h1v1h-1zM343 72h1v1h-1zM350 72h1v1h-1zM356 72h1v1h-1zM362 72h1v1h-1zM368 72h1v1h-1zM374 72h1v1h-1zM387 72h1v1h-1zM393 72h1v1h-1zM281 73h7v1h-7zM299 73h1v1h-1zM305 73h1v1h-1zM311 73h2v1h-2zM318 73h1v1h-1zM324 73h2v1h-2zM331 73h1v1h-1zM337 73h1v1h-1zM343 73h1v1h-1zM350 73h1v1h-1zM356 73h1v1h-1zM362 73h1v1h-1zM368 73h1v1h-1zM374 73h1v1h-1zM387 73h1v1h-1zM393 73h1v1h-1zM281 74h1v1h-1zM287 74h1v1h-1zM299 74h1v1h-1zM305 74h14v1h-14zM324 74h2v1h-2zM331 74h1v1h-1zM337 74h1v1h-1zM343 74h1v1h-1zM350 74h7v1h-7zM362 74h1v1h-1zM368 74h7v1h-7zM387 74h7v1h-7zM281 75h1v1h-1zM287 75h1v1h-1zM299 75h7v1h-7zM318 75h26v1h-26zM362 75h7v1h-7zM281 76h1v1h-1zM287 76h1v1h-1zM281 77h1v1h-1zM287 77h1v1h-1zM294 77h7v1h-7zM393 77h7v1h-7zM281 78h1v1h-1zM287 78h1v1h-1zM294 78h1v1h-1zM300 78h1v1h-1zM393 78h1v1h-1zM399 78h1v1h-1zM281 79h7v1h-7zM294 79h1v1h-1zM300 79h1v1h-1zM393 79h1v1h-1zM399 79h1v1h-1zM276 80h7v1h-7zM288 80h7v1h-7zM300 80h1v1h-1zM393 80h1v1h-1zM399 80h1v1h-1zM276 81h1v1h-1zM282 81h1v1h-1zM288 81h1v1h-1zM294 81h1v1h-1zM300 81h1v1h-1zM393 81h1v1h-1zM399 81h1v1h-1zM276 82h1v1h-1zM282 82h1v1h-1zM288 82h1v1h-1zM294 82h1v1h-1zM300 82h1v1h-1zM375 82h7v1h-7zM393 82h1v1h-1zM399 82h1v1h-1zM276 83h1v1h-1zM282 83h1v1h-1zM288 83h1v1h-1zM294 83h7v1h-7zM375 83h1v1h-1zM381 83h1v1h-1zM393 83h7v1h-7zM276 84h1v1h-1zM282 84h1v1h-1zM288 84h1v1h-1zM294 84h1v1h-1zM375 84h1v1h-1zM381 84h1v1h-1zM276 85h1v1h-1zM282 85h1v1h-1zM288 85h1v1h-1zM294 85h1v1h-1zM375 85h1v1h-1zM381 85h1v1h-1zM276 86h7v1h-7zM288 86h7v1h-7zM375 86h1v1h-1zM381 86h1v1h-1zM375 87h1v1h-1zM381 87h7v1h-7zM375 88h7v1h-7zM387 88h1v1h-1zM381 89h1v1h-1zM387 89h1v1h-1zM381 90h1v1h-1zM387 90h1v1h-1zM381 91h1v1h-1zM387 91h1v1h-1zM381 92h1v1h-1zM387 92h1v1h-1zM381 93h7v1h-7z" fill="#ff0000"/>
</g>
</svg>
</body></html>
